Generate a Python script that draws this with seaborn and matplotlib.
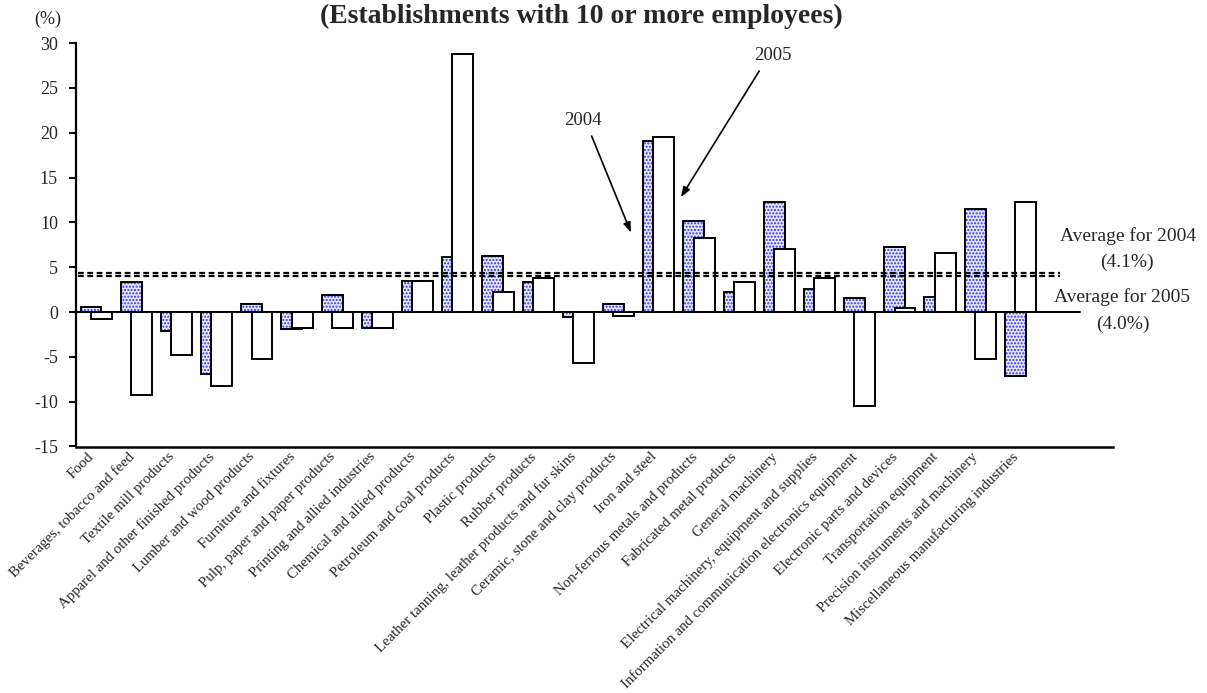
import numpy as np
import pandas as pd
import matplotlib
matplotlib.use("Agg")
import matplotlib.pyplot as plt
import matplotlib.transforms as mtransforms
import seaborn as sns

# Year-on-year change by industry (%)
categories = [
    "Food", "Beverages, tobacco and feed", "Textile mill products",
    "Apparel and other finished products", "Lumber and wood products",
    "Furniture and fixtures", "Pulp, paper and paper products",
    "Printing and allied industries", "Chemical and allied products",
    "Petroleum and coal products", "Plastic products", "Rubber products",
    "Leather tanning, leather products and fur skins",
    "Ceramic, stone and clay products", "Iron and steel",
    "Non-ferrous metals and products", "Fabricated metal products",
    "General machinery", "Electrical machinery, equipment and supplies",
    "Information and communication electronics equipment",
    "Electronic parts and devices", "Transportation equipment",
    "Precision instruments and machinery",
    "Miscellaneous manufacturing industries",
]
growth_2004 = [0.6, 3.4, -2.1, -6.9, 0.9, -1.9, 1.9, -1.8, 3.5, 6.1, 6.2, 3.4,
               -0.6, 0.9, 19.1, 10.2, 2.2, 12.3, 2.6, 1.6, 7.2, 1.7, 11.5, -7.1]
growth_2005 = [-0.8, -9.3, -4.8, -8.2, -5.2, -1.8, -1.8, -1.8, 3.5, 28.8, 2.2, 3.8,
               -5.7, -0.4, 19.5, 8.3, 3.4, 7.0, 3.8, -10.5, 0.4, 6.6, -5.2, 12.3]
average_2004 = 4.1
average_2005 = 4.0
y_ticks = [-15, -10, -5, 0, 5, 10, 15, 20, 25, 30]

sns.set_theme(style="white")
plt.rcParams["font.family"] = ["Liberation Serif", "DejaVu Serif"]

W, H = 1207, 693
fig = plt.figure(figsize=(W / 100, H / 100), dpi=100)
ax = fig.add_axes([76 / W, 1 - 446.5 / H, (1113 - 76) / W, (446.5 - 43.1) / H])

idx = np.arange(len(categories))
shift = 0.128
df = pd.DataFrame({
    "pos2004": idx - shift,
    "pos2005": idx + shift,
    "y2004": growth_2004,
    "y2005": growth_2005,
})

bar_w = 0.52
# 2004: blue dotted fill, then a black outline on top of it
sns.barplot(data=df, x="pos2004", y="y2004", native_scale=True, width=bar_w,
            color="#e2e2ff", edgecolor="#3030f0", linewidth=0, hatch=".....",
            errorbar=None, ax=ax, zorder=2)
sns.barplot(data=df, x="pos2004", y="y2004", native_scale=True, width=bar_w,
            fill=False, color="black", linewidth=1.4, errorbar=None, ax=ax,
            zorder=2)
# 2005: white bars in front
sns.barplot(data=df, x="pos2005", y="y2005", native_scale=True, width=bar_w,
            color="white", edgecolor="black", linewidth=1.4, errorbar=None,
            ax=ax, zorder=3)
for p in ax.patches[-len(categories):]:
    p.set_facecolor("white")

ax.set_xlim(-0.5, -0.5 + (1113 - 76) / 40.19)
ax.set_ylim(-15, 30)

# zero line and the two average lines
ax.axhline(0, xmin=0, xmax=(1080 - 76) / (1113 - 76), color="black", lw=1.4,
           zorder=4)
x_end = -0.5 + (1060 - 76) / 40.19
up = mtransforms.offset_copy(ax.transData, fig=fig, x=0, y=2.5, units="dots")
ax.plot([-0.45, x_end], [average_2004, average_2004], color="black", lw=1.6,
        dashes=(2.6, 1.6), transform=up, zorder=5)
ax.plot([-0.45, x_end], [average_2005, average_2005], color="black", lw=1.6,
        dashes=(2.6, 1.6), zorder=5)

# axes styling
for side in ("top", "right"):
    ax.spines[side].set_visible(False)
ax.spines["left"].set_color("black")
ax.spines["left"].set_linewidth(1.6)
ax.spines["bottom"].set_color("black")
ax.spines["bottom"].set_linewidth(1.8)

ax.set_yticks(y_ticks)
ax.set_yticklabels([str(v) for v in y_ticks], fontsize=13)
ax.tick_params(axis="y", direction="out", length=5, width=1.4, color="black",
               pad=8, left=True)
ax.set_xticks(idx)
ax.set_xticklabels(categories, rotation=45, ha="right", va="center",
                   rotation_mode="anchor", fontsize=10.7)
ax.tick_params(axis="x", length=0, pad=6)
label_shift = mtransforms.ScaledTranslation(-4 / 100, 0, fig.dpi_scale_trans)
for lab in ax.get_xticklabels():
    lab.set_transform(lab.get_transform() + label_shift)
ax.set_xlabel("")
ax.set_ylabel("")
ax.grid(False)

# annotations
ax.annotate("", xy=(13.31, 8.85), xytext=(12.33, 19.63),
            arrowprops=dict(arrowstyle="-|>,head_length=0.5,head_width=0.18",
                            color="black", lw=1.2, shrinkA=0, shrinkB=0))
ax.text(12.11, 21.42, "2004", ha="center", va="center", fontsize=13.5)
ax.annotate("", xy=(14.55, 12.80), xytext=(16.50, 26.89),
            arrowprops=dict(arrowstyle="-|>,head_length=0.5,head_width=0.18",
                            color="black", lw=1.2, shrinkA=0, shrinkB=0))
ax.text(16.84, 28.67, "2005", ha="center", va="center", fontsize=13.5)

def fig_text(px, py, s, **kw):
    fig.text(px / W, 1 - py / H, s, **kw)

fig_text(1128, 236, "Average for 2004", ha="center", va="center", fontsize=14)
fig_text(1127, 262, "(4.1%)", ha="center", va="center", fontsize=14)
fig_text(1122, 297, "Average for 2005", ha="center", va="center", fontsize=14)
fig_text(1123, 324, "(4.0%)", ha="center", va="center", fontsize=14)
fig_text(48, 19, "(%)", ha="center", va="center", fontsize=13)
fig_text(581, 23, "(Establishments with 10 or more employees)", ha="center",
         va="baseline", fontsize=20, fontweight="bold")

fig.savefig("out.png", dpi=100)
